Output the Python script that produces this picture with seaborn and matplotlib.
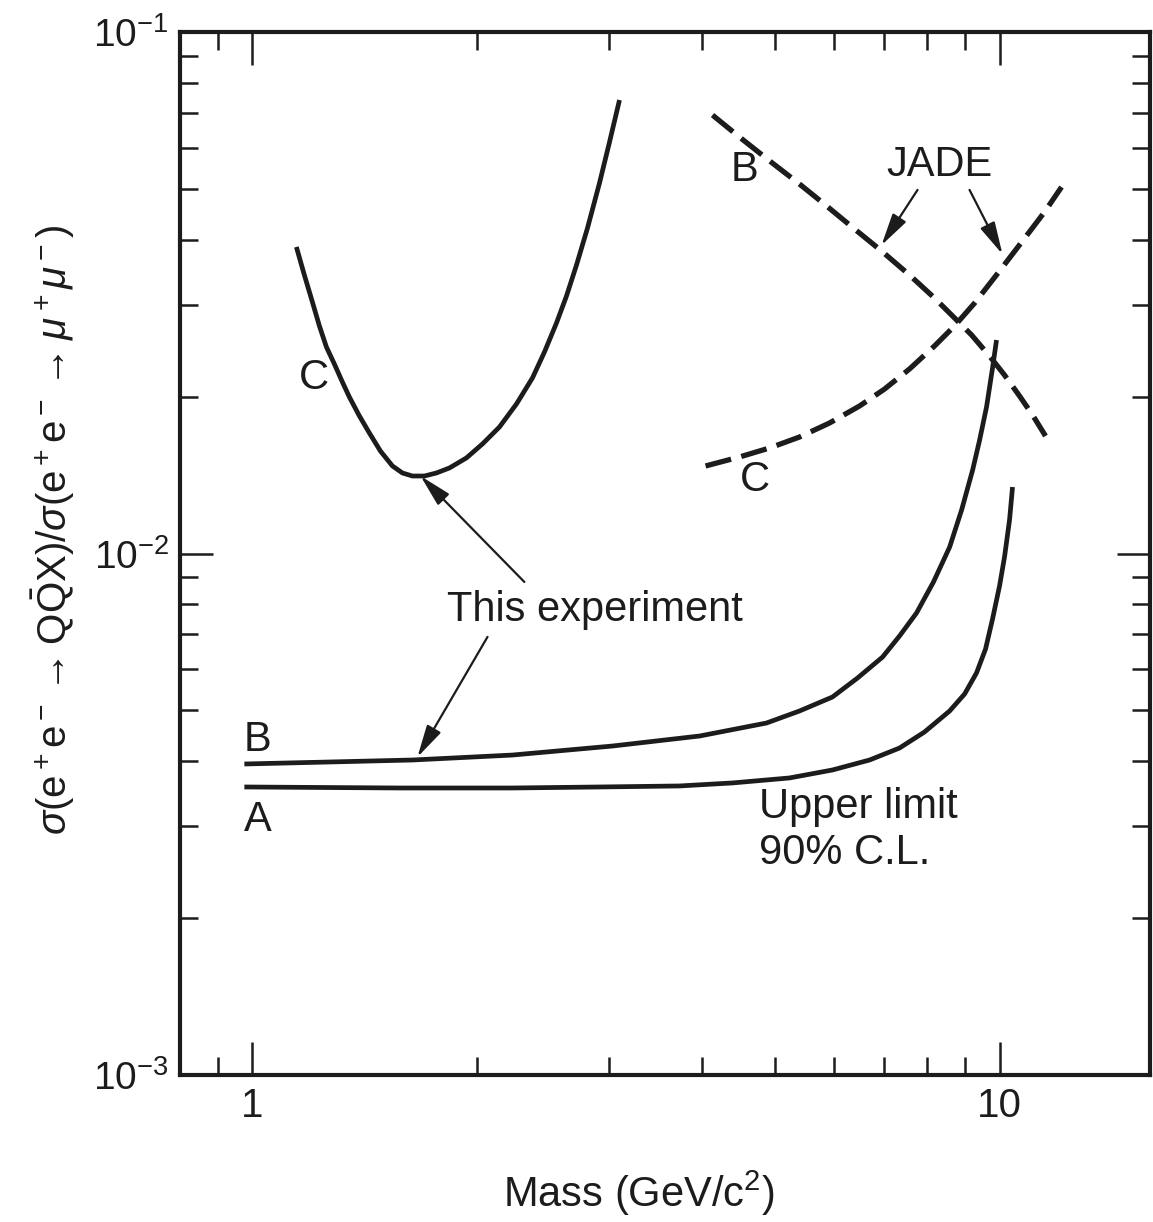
import matplotlib
matplotlib.use("Agg")
import matplotlib.pyplot as plt
import matplotlib.ticker as mticker
import seaborn as sns

# --- DATEN ---
# Diese Messung, Kurve A (Obergrenze 90% C.L.)
mass_A = [0.9756, 1.5732, 2.2285, 2.9146, 3.7290, 4.3910, 5.2349, 5.9760, 6.6991, 7.3470,
          7.9357, 8.5744, 8.9801, 9.3155, 9.5777, 9.7866, 10.0, 10.155, 10.313, 10.409]
ratio_A = [0.003567, 0.003551, 0.003551, 0.003567, 0.003583, 0.003631, 0.003712, 0.003845,
           0.004018, 0.004236, 0.004547, 0.004989, 0.005378, 0.005902, 0.006558, 0.007488,
           0.008662, 0.009847, 0.011593, 0.013412]

# Diese Messung, Kurve B
mass_B = [0.9756, 1.2678, 1.6374, 2.2285, 3.0334, 3.9670, 4.8764, 5.3986, 5.9760, 6.4556,
          6.9730, 7.3470, 7.7426, 8.1588, 8.5744, 8.8975, 9.2044, 9.4050, 9.6073, 9.7866, 9.9079]
ratio_B = [0.003948, 0.003983, 0.004018, 0.004107, 0.004274, 0.004467, 0.004731, 0.004989,
           0.005307, 0.005771, 0.006330, 0.006946, 0.007690, 0.008821, 0.010287, 0.012121,
           0.014457, 0.016504, 0.019095, 0.022680, 0.025667]

# Diese Messung, Kurve C
mass_C = [1.1452, 1.1737, 1.2032, 1.2294, 1.2562, 1.2876, 1.3197, 1.3485, 1.3908, 1.4343,
          1.4838, 1.5396, 1.5878, 1.6374, 1.6991, 1.7632, 1.8356, 1.9341, 2.0320, 2.1413,
          2.2565, 2.3706, 2.4598, 2.5527, 2.6327, 2.7152, 2.8088, 2.9146, 3.0061, 3.0999]
ratio_C = [0.03871, 0.03420, 0.03035, 0.02731, 0.02489, 0.02308, 0.02132, 0.01995, 0.01835,
           0.01702, 0.01572, 0.01472, 0.01427, 0.01408, 0.01408, 0.01427, 0.01459, 0.01525,
           0.01622, 0.01748, 0.01935, 0.02171, 0.02434, 0.02767, 0.03117, 0.03574, 0.04208,
           0.05133, 0.06152, 0.07406]

# JADE, Kurve B (gestrichelt)
mass_jade_B = [4.1289, 4.4863, 4.9066, 5.3986, 5.8483, 6.3962, 6.9519, 7.5770, 8.1839,
               8.6538, 9.1759, 9.6964, 10.155, 10.636, 11.071, 11.523]
ratio_jade_B = [0.069298, 0.062897, 0.056820, 0.051105, 0.046586, 0.041905, 0.038023,
                0.034199, 0.030895, 0.028532, 0.026238, 0.023910, 0.021990, 0.020047,
                0.018433, 0.016799]

# JADE, Kurve C (gestrichelt)
mass_jade_C = [4.0418, 4.4863, 4.9217, 5.3986, 5.9209, 6.4953, 7.0160, 7.5770, 8.1839,
               8.7035, 9.2610, 10.0, 10.735, 11.487, 12.106]
ratio_jade_C = [0.014717, 0.015313, 0.015933, 0.016726, 0.017791, 0.019178, 0.020670,
                0.022584, 0.024998, 0.027306, 0.030219, 0.034807, 0.039749, 0.045165, 0.050436]

INK = "#1c1c1c"

sns.set_style("ticks")
plt.rcParams['font.family'] = ['Liberation Sans', 'DejaVu Sans']
plt.rcParams['mathtext.fontset'] = 'custom'
plt.rcParams['mathtext.rm'] = 'Liberation Sans'
plt.rcParams['mathtext.it'] = 'Liberation Sans:italic'
plt.rcParams['mathtext.bf'] = 'Liberation Sans:bold'

fig = plt.figure(figsize=(11.53, 12.22), dpi=100)
fig.patch.set_facecolor("white")
ax = fig.add_axes([0.1561, 0.1203, 0.8413, 0.8535])
ax.set_xscale('log')
ax.set_yscale('log')

solid = dict(color=INK, lw=3.4, solid_capstyle='butt', solid_joinstyle='round',
             ax=ax, sort=False, estimator=None)
sns.lineplot(x=mass_A, y=ratio_A, **solid)
sns.lineplot(x=mass_B, y=ratio_B, **solid)
sns.lineplot(x=mass_C, y=ratio_C, **solid)

dashed = dict(color=INK, lw=3.8, linestyle=(0, (5, 2)), dash_capstyle='butt',
              ax=ax, sort=False, estimator=None)
sns.lineplot(x=mass_jade_B, y=ratio_jade_B, **dashed)
sns.lineplot(x=mass_jade_C, y=ratio_jade_C, **dashed)

ax.set_xlim(0.8, 15.9)
ax.set_ylim(1e-3, 1e-1)

# --- Achsen ---
for sp in ax.spines.values():
    sp.set_linewidth(3.0)
    sp.set_color(INK)
    sp.set_visible(True)

ax.xaxis.set_major_locator(mticker.FixedLocator([1, 10]))
ax.xaxis.set_major_formatter(mticker.FixedFormatter(['1', '10']))
ax.xaxis.set_minor_locator(mticker.LogLocator(base=10, subs=range(2, 10), numticks=20))
ax.xaxis.set_minor_formatter(mticker.NullFormatter())
ax.yaxis.set_major_locator(mticker.LogLocator(base=10, numticks=10))
ax.yaxis.set_minor_locator(mticker.LogLocator(base=10, subs=range(2, 10), numticks=20))
ax.yaxis.set_minor_formatter(mticker.NullFormatter())

ax.tick_params(which='both', direction='in', top=True, right=True, colors=INK, labelsize=29)
ax.tick_params(which='major', length=24, width=1.8, pad=9)
ax.tick_params(axis='y', which='major', labelsize=28, pad=8)
ax.tick_params(which='minor', length=13, width=1.8)

ax.set_xlabel("Mass (GeV/c$^2$)", fontsize=30, color=INK)
ax.xaxis.set_label_coords(0.473, -0.09)
ax.set_ylabel(r"$\sigma(\mathrm{e^+e^-\rightarrow Q\bar{Q}X})/\sigma(\mathrm{e^+e^-}\rightarrow\mu^+\mu^-)$",
              fontsize=29, color=INK)
ax.yaxis.set_label_coords(-0.106, 0.523)

# --- Beschriftungen ---
fs = 30
ax.text(1.0155, 0.00439, "B", fontsize=fs, ha='center', va='center', color=INK)
ax.text(1.0155, 0.00308, "A", fontsize=fs, ha='center', va='center', color=INK)
ax.text(1.21, 0.0217, "C", fontsize=fs, ha='center', va='center', color=INK)
ax.text(4.556, 0.0544, "B", fontsize=fs, ha='center', va='center', color=INK)
ax.text(4.70, 0.01384, "C", fontsize=fs, ha='center', va='center', color=INK)
ax.text(2.87, 0.0078, "This experiment", fontsize=fs, ha='center', va='center', color=INK)
ax.text(8.31, 0.0556, "JADE", fontsize=fs, ha='center', va='center', color=INK)
ax.text(4.772, 0.00295, "Upper limit\n90% C.L.", fontsize=fs, ha='left', va='center',
        linespacing=1.2, color=INK)

arrow = dict(arrowstyle='-|>,head_length=0.9,head_width=0.22', lw=1.6, color=INK,
             mutation_scale=22, shrinkA=0, shrinkB=0)
ax.annotate('', xy=(1.679, 0.01408), xytext=(2.312, 0.00882), arrowprops=arrow)
ax.annotate('', xy=(1.663, 0.00407), xytext=(2.064, 0.00692), arrowprops=arrow)
ax.annotate('', xy=(6.95, 0.0390), xytext=(7.767, 0.0498), arrowprops=arrow)
ax.annotate('', xy=(10.09, 0.0375), xytext=(9.117, 0.0498), arrowprops=arrow)

plt.savefig("out.png", dpi=100, facecolor="white")
plt.close()
